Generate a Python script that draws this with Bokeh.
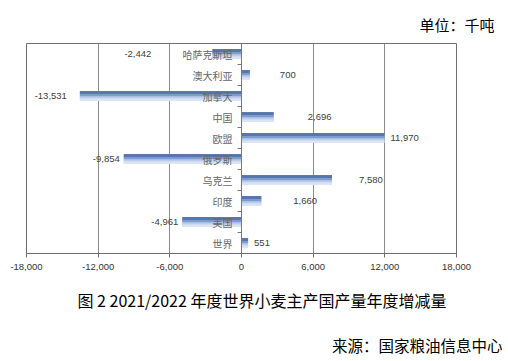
import math
from bokeh.plotting import figure
from bokeh.models import (ColumnDataSource, FactorRange, Range1d, FixedTicker,
                          NumeralTickFormatter, Span, Title)
from bokeh.transform import dodge
from bokeh.core.properties import value
from bokeh.embed import file_html
from bokeh.resources import INLINE

# ---- data ----
categories = ["哈萨克斯坦", "澳大利亚", "加拿大", "中国", "欧盟",
              "俄罗斯", "乌克兰", "印度", "美国", "世界"]
values = [-2442, 700, -13531, 2696, 11970, -9854, 7580, 1660, -4961, 551]
x_ticks = [-18000, -12000, -6000, 0, 6000, 12000, 18000]
# label placement nudges (px) as in the original
label_nudge = [-61, 30, -13, 34, 6, -4, 27, 32, -4, 6]

title_text = "图 2 2021/2022 年度世界小麦主产国产量年度增减量"
unit_text = "单位：千吨"
source_text = "来源：国家粮油信息中心"

CJK = "Noto Sans CJK SC"
NUM = "Liberation Sans"

p = figure(width=502, height=361, output_backend="svg", toolbar_location=None,
           y_range=FactorRange(*reversed(categories)),
           x_range=Range1d(x_ticks[0], x_ticks[-1]),
           y_axis_location=None,
           min_border_left=26, min_border_right=46,
           min_border_top=43, min_border_bottom=104)
p.background_fill_color = "white"
p.border_fill_color = "white"
p.outline_line_color = "#6e6e6e"
p.outline_line_width = 1

# x axis
p.xaxis.ticker = FixedTicker(ticks=x_ticks)
p.xaxis.formatter = NumeralTickFormatter(format="0,0")
p.xaxis.axis_line_color = "#6e6e6e"
p.xaxis.major_tick_line_color = "#6e6e6e"
p.xaxis.major_tick_in = 0
p.xaxis.major_tick_out = 4
p.xaxis.minor_tick_line_color = None
p.xaxis.major_label_text_font = NUM
p.xaxis.major_label_text_font_size = "9.5px"
p.xaxis.major_label_text_color = "#333333"
p.xaxis.major_label_standoff = 6

p.xgrid.ticker = FixedTicker(ticks=x_ticks)
p.xgrid.grid_line_color = "#8c8c8c"
p.ygrid.grid_line_color = None

src = ColumnDataSource(dict(cat=categories, val=values))

# gradient bars (dark top -> light bottom)
shades = ["#3c5e96", "#5478b0", "#7f9dcc", "#a9bfe3", "#cddaf0", "#e6edf8"]
bar_h = 0.45
p.hbar(y="cat", left=0, right="val", height=bar_h, source=src,
       fill_color="#a9bfe3", line_color=None)
n = len(shades)
sh = bar_h / n
for i, c in enumerate(shades):
    off = bar_h / 2 - sh * (i + 0.5)
    p.hbar(y=dodge("cat", off, range=p.y_range), left=0, right="val",
           height=sh, source=src, fill_color=c, line_color=None)

# zero axis line and boundary ticks
p.add_layout(Span(location=0, dimension="height", line_color="#7a7a7a", line_width=1))
p.ray(x=0, y=dodge("cat", 0.5, range=p.y_range), length=4, length_units="screen",
      angle=math.pi, source=src, line_color="#7a7a7a", line_width=1)

# category labels
p.text(x=0, y="cat", text="cat", source=src, x_offset=-9,
       text_align="right", text_baseline="middle",
       text_font=value(CJK), text_font_size="10px", text_color="#666666")

# value labels
pos = [i for i, v in enumerate(values) if v >= 0]
neg = [i for i, v in enumerate(values) if v < 0]
for idx, align in ((pos, "left"), (neg, "right")):
    s = ColumnDataSource(dict(
        cat=[categories[i] for i in idx],
        val=[values[i] for i in idx],
        lab=["{:,}".format(values[i]) for i in idx],
        off=[label_nudge[i] for i in idx]))
    p.text(x="val", y="cat", text="lab", x_offset="off", source=s,
           text_align=align, text_baseline="middle",
           text_font=value(NUM), text_font_size="9.5px", text_color="#404040")

# surrounding texts as titles
p.add_layout(Title(text=unit_text, align="right", offset=-38, standoff=18,
                   text_font=CJK, text_font_size="15px", text_font_style="normal",
                   text_color="#000000"), "above")
p.add_layout(Title(text=title_text, align="left", offset=51, standoff=27,
                   text_font=CJK, text_font_size="16px", text_font_style="normal",
                   text_color="#000000"), "below")
p.add_layout(Title(text=source_text, align="right", offset=-46, standoff=12,
                   text_font=CJK, text_font_size="15.5px", text_font_style="normal",
                   text_color="#000000"), "below")

open("out.html", "w").write(file_html(p, INLINE))
